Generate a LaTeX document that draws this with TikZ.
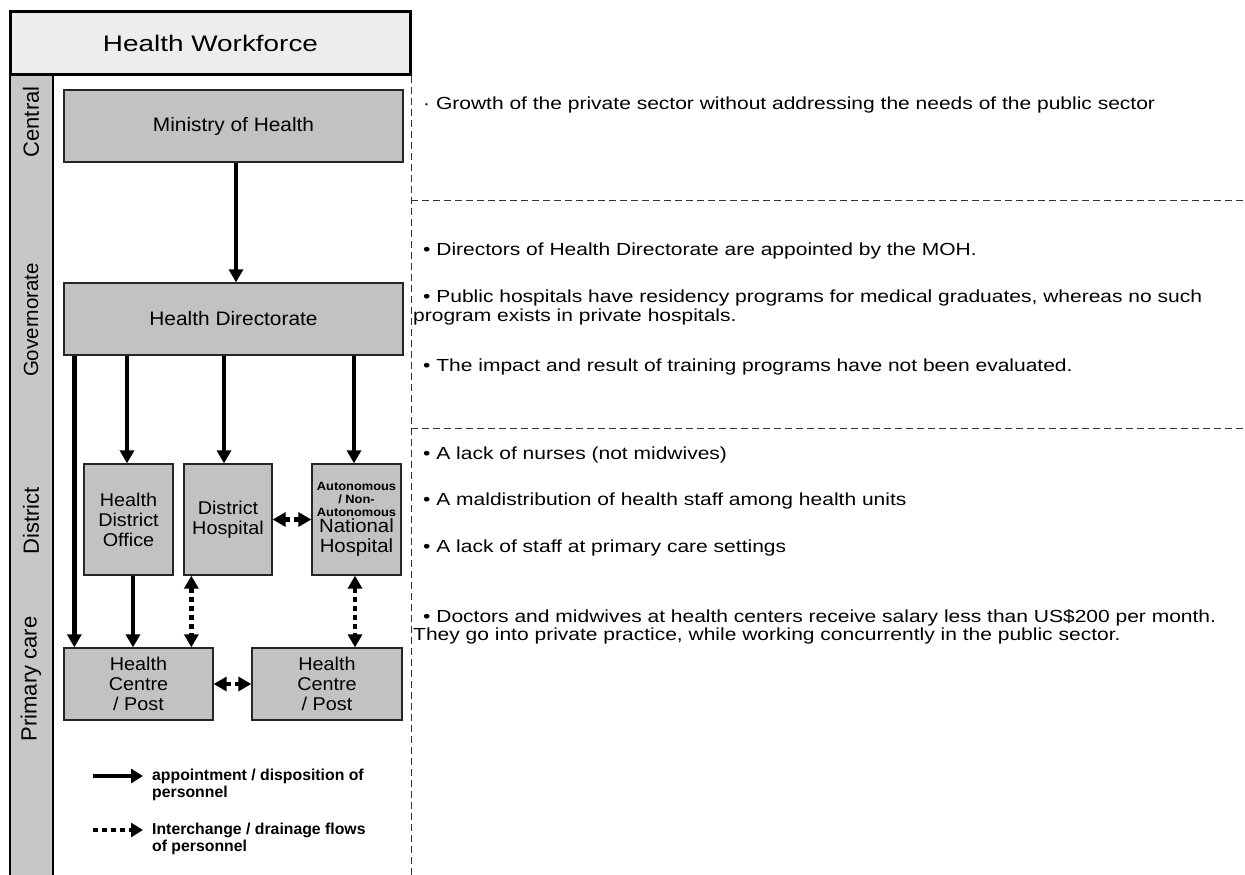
\documentclass[tikz,border=0pt]{standalone}
\usepackage{fontspec}
\setmainfont{Liberation Sans}
\newfontfamily\notefont[FakeStretch=1.2]{Liberation Sans}
\newfontfamily\titlefont[FakeStretch=1.24]{Liberation Sans}
\newfontfamily\boxfont[FakeStretch=1.07]{Liberation Sans}
\usetikzlibrary{arrows.meta}
\newcommand{\stackc}[1]{\begin{tabular}{@{}c@{}}#1\end{tabular}}
\begin{document}
\begin{tikzpicture}[x=1pt,y=-1pt,
  box/.style={draw=black!85,line width=1.3pt,fill=black!24,align=center,inner sep=1pt},
  bigtxt/.style={font=\boxfont\fontsize{19.5}{21}\selectfont},
  midtxt/.style={font=\boxfont\fontsize{18.5}{20}\selectfont},
  note/.style={font=\notefont\fontsize{17.5}{18.5}\selectfont,anchor=west,inner sep=0pt,align=left},
  legtxt/.style={anchor=west,align=left,inner sep=0pt,font=\bfseries\fontsize{15.8}{17.5}\selectfont},
  solidarr/.style={line width=4.5pt,-{Triangle[length=13pt,width=14pt]}},
  flowarr/.style={line width=4.5pt,dash pattern=on 5pt off 4pt,{Triangle[length=13pt,width=14pt]}-{Triangle[length=13pt,width=14pt]}},
  legarr/.style={line width=4.5pt,-{Triangle[length=12pt,width=14pt]}},
  legflow/.style={line width=4.5pt,dash pattern=on 5pt off 4pt,-{Triangle[length=12pt,width=14pt]}},
  sep/.style={line width=0.9pt,dash pattern=on 7pt off 4pt,black!80},
  level/.style={rotate=90,font=\fontsize{22}{24}\selectfont}]
\useasboundingbox (0,0) rectangle (1245,875);
\fill[white] (0,0) rectangle (1245,875);

% left level band
\draw[line width=1.5pt,fill=black!22] (10,75) rectangle (53,880);
\node[level] (lvc) at (31,122) {Central};
\node[level,font=\fontsize{20.5}{22}\selectfont] (lvg) at (31,320) {Governorate};
\node[level] (lvd) at (31,521) {District};
\node[level] (lvp) at (31,679) {Primary care};

% title
\node[draw,line width=3pt,fill=black!7,minimum width=400pt,minimum height=63pt,
      font=\titlefont\fontsize{22.5}{24}\selectfont] (title) at (210.5,43) {Health Workforce};

% dashed separators
\draw[sep] (411,76) -- (411,875);
\draw[sep] (411,200) -- (1245,200);
\draw[sep] (411,428) -- (1245,428);

% organisation boxes
\node[box,bigtxt,minimum width=339pt,minimum height=72pt] (moh) at (233.5,126) {Ministry of Health};
\node[box,bigtxt,minimum width=339pt,minimum height=72pt] (hd) at (233.5,319) {Health Directorate};
\node[box,midtxt,minimum width=89pt,minimum height=111pt] (hdo) at (128.5,519.5) {Health\\District\\Office};
\node[box,midtxt,minimum width=88pt,minimum height=111pt] (dh) at (228,519.5) {District\\Hospital};
\node[box,minimum width=89pt,minimum height=111pt] (nh) at (356.5,519.5)
  {\boxfont\bfseries\fontsize{12}{13}\selectfont\stackc{Autonomous\\/ Non-\\Autonomous}\\[-3pt]
   \boxfont\mdseries\fontsize{19}{20}\selectfont\stackc{National\\Hospital}};
\node[box,midtxt,minimum width=149pt,minimum height=72pt] (hc1) at (138.5,684) {Health\\Centre\\/ Post};
\node[box,midtxt,minimum width=150pt,minimum height=72pt] (hc2) at (327,684) {Health\\Centre\\/ Post};

% appointment arrows
\draw[solidarr] ([xshift=2.5pt]moh.south) -- ([xshift=2.5pt]hd.north);
\draw[solidarr] ([xshift=11pt]hd.south west) -- ([xshift=11pt]hc1.north west);
\draw[solidarr] ([xshift=-1.5pt]hdo.north |- hd.south) -- ([xshift=-1.5pt]hdo.north);
\draw[solidarr] ([xshift=-4pt]dh.north |- hd.south) -- ([xshift=-4pt]dh.north);
\draw[solidarr] ([xshift=-2.5pt]nh.north |- hd.south) -- ([xshift=-2.5pt]nh.north);
\draw[solidarr] ([xshift=4.5pt]hdo.south) -- ([xshift=4.5pt]hdo.south |- hc1.north);

% interchange flows
\draw[flowarr] (dh.east) -- (nh.west);
\draw[flowarr] ([xshift=8pt]dh.south west) -- ([xshift=8pt]dh.south west |- hc1.north);
\draw[flowarr] ([xshift=-1.5pt]nh.south) -- ([xshift=-1.5pt]nh.south |- hc2.north);
\draw[flowarr] (hc1.east) -- (hc2.west);

% legend
\coordinate (la1) at (93,776);
\coordinate (la2) at (143,776);
\coordinate (lb1) at (93,830);
\coordinate (lb2) at (143,830);
\draw[legarr] (la1) -- (la2);
\draw[legflow] (lb1) -- (lb2);
\node[legtxt] (lta) at (152,785) {appointment / disposition of\\personnel};
\node[legtxt] (ltb) at (152,839) {Interchange / drainage flows\\of personnel};

% remarks
\node[note] (r1) at (423,105) {· Growth of the private sector without addressing the needs of the public sector};
\node[note] (r2) at (423,251) {• Directors of Health Directorate are appointed by the MOH.};
\node[note,anchor=north west] (r3) at (413,290) {\hspace{10pt}• Public hospitals have residency programs for medical graduates, whereas no such\\program exists in private hospitals.};
\node[note] (r4) at (423,367) {• The impact and result of training programs have not been evaluated.};
\node[note] (r5) at (423,455) {• A lack of nurses (not midwives)};
\node[note] (r6) at (423,501) {• A maldistribution of health staff among health units};
\node[note] (r7) at (423,548) {• A lack of staff at primary care settings};
\node[note,anchor=north west] (r8) at (413,609) {\hspace{10pt}• Doctors and midwives at health centers receive salary less than US\$200 per month.\\They go into private practice, while working concurrently in the public sector.};
\end{tikzpicture}
\end{document}
